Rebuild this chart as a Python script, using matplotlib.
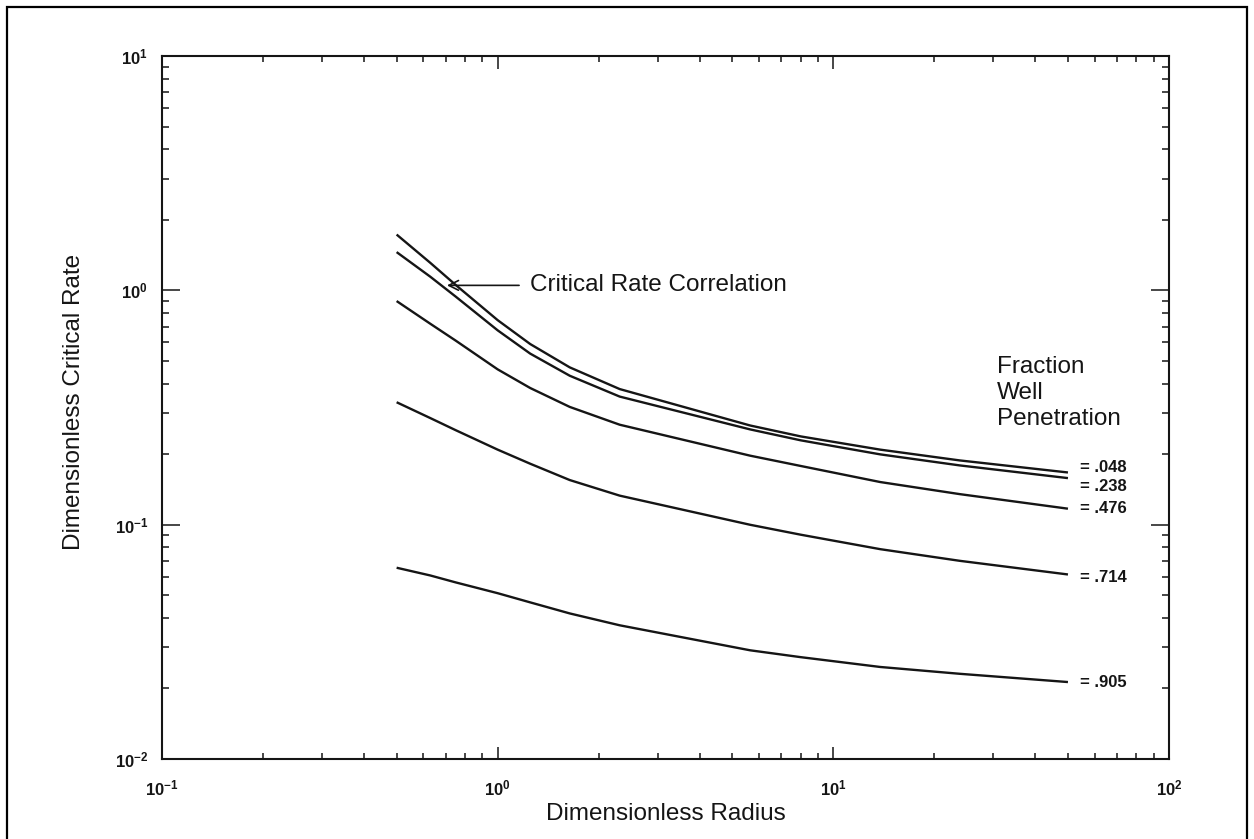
import math
import matplotlib
matplotlib.use("Agg")
import matplotlib.pyplot as plt
from matplotlib.patches import Rectangle
from matplotlib.ticker import LogLocator, FuncFormatter, NullFormatter

# ---- data ----
radius = [0.5, 0.63, 0.75, 1.0, 1.25, 1.64, 2.31, 5.65, 8.0, 13.8, 23.8, 50]
rate_048 = [1.73, 1.31, 1.054, 0.746, 0.590, 0.469, 0.379, 0.265, 0.238, 0.209, 0.188, 0.167]
rate_238 = [1.456, 1.143, 0.940, 0.675, 0.537, 0.432, 0.352, 0.255, 0.229, 0.1995, 0.179, 0.158]
rate_476 = [0.90, 0.72, 0.61, 0.46, 0.383, 0.318, 0.267, 0.197, 0.178, 0.152, 0.135, 0.117]
rate_714 = [0.333, 0.285, 0.253, 0.209, 0.182, 0.155, 0.133, 0.0999, 0.0906, 0.0786, 0.0701, 0.0613]
rate_905 = [0.0655, 0.0607, 0.0567, 0.051, 0.0466, 0.0418, 0.0372, 0.0291, 0.0272, 0.0247, 0.0231, 0.0213]
series = [rate_048, rate_238, rate_476, rate_714, rate_905]
series_labels = ["= .048", "= .238", "= .476", "= .714", "= .905"]
label_offsets = [5, -8, 0, -3, 0]   # vertical pixel offsets of end labels

plt.rcParams['font.family'] = ['Liberation Sans', 'DejaVu Sans']
plt.rcParams['mathtext.fontset'] = 'custom'
plt.rcParams['mathtext.rm'] = 'Liberation Sans:bold'
plt.rcParams['mathtext.bf'] = 'Liberation Sans:bold'
plt.rcParams['mathtext.it'] = 'Liberation Sans:bold'

ink = '#151515'
fig = plt.figure(figsize=(12.54, 8.39), dpi=100)
ax = fig.add_axes([162/1254, 1-759/839, (1169-162)/1254, (759-56)/839])

for vals, lab, dy in zip(series, series_labels, label_offsets):
    ax.plot(radius, vals, color=ink, lw=1.7, solid_capstyle='butt',
            solid_joinstyle='round')
    ax.annotate(lab, xy=(radius[-1], vals[-1]), xytext=(12, dy),
                textcoords='offset pixels', ha='left', va='center',
                fontsize=12, fontweight='bold', color=ink)

ax.set_xscale('log')
ax.set_yscale('log')
ax.set_xlim(0.1, 100)
ax.set_ylim(0.01, 10)

fmt = FuncFormatter(lambda v, p: r'$10^{%d}$' % round(math.log10(v)))
for axis in (ax.xaxis, ax.yaxis):
    axis.set_major_locator(LogLocator(base=10, numticks=10))
    axis.set_minor_locator(LogLocator(base=10, subs=range(2, 10), numticks=20))
    axis.set_major_formatter(fmt)
    axis.set_minor_formatter(NullFormatter())

ax.tick_params(which='both', direction='in', top=True, right=True,
               width=1.1, color=ink, labelcolor=ink)
ax.tick_params(axis='y', which='major', length=13, pad=10, labelsize=12)
ax.tick_params(axis='y', which='minor', length=5)
ax.tick_params(axis='x', which='major', length=9, pad=14, labelsize=12)
ax.tick_params(axis='x', which='minor', length=4)
for s in ax.spines.values():
    s.set_linewidth(1.5)
    s.set_color(ink)

ax.set_xlabel('Dimensionless Radius', fontsize=17.5, color=ink)
ax.set_ylabel('Dimensionless Critical Rate', fontsize=17.5, color=ink)
ax.xaxis.set_label_coords(0.5, -0.0626)
ax.yaxis.set_label_coords(-0.0765, 0.508)

ax.annotate('Critical Rate Correlation', xy=(0.706, 1.05), xytext=(1.25, 1.05),
            ha='left', va='center', fontsize=17.5, color=ink,
            arrowprops=dict(arrowstyle='->', color=ink, lw=1.2,
                            shrinkA=6, shrinkB=0))

ax.text((997-162)/1007, (759-356)/703, 'Fraction\nWell\nPenetration',
        transform=ax.transAxes, ha='left', va='top', fontsize=17.5,
        color=ink, linespacing=1.24)

fig.add_artist(Rectangle((7/1254, -0.02), (1247-7)/1254, 1.02-7/839,
                         transform=fig.transFigure, fill=False,
                         edgecolor='black', lw=1.6, clip_on=False))

fig.savefig('out.png', dpi=100)
